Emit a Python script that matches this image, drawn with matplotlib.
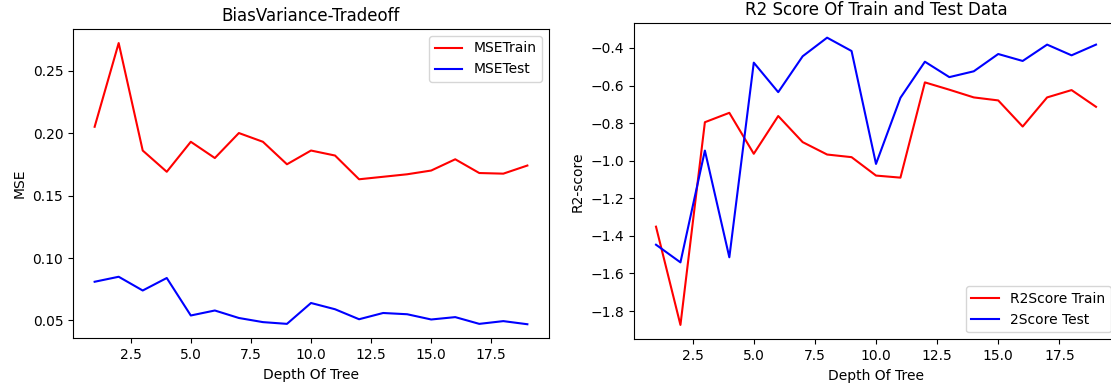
import matplotlib
matplotlib.use("Agg")
import matplotlib.pyplot as plt

# tree depths tried
depth = list(range(1, 20))

# mean squared error per depth
mse_train = [0.205, 0.272, 0.186, 0.169, 0.193, 0.180, 0.200, 0.193, 0.175, 0.186,
             0.182, 0.163, 0.165, 0.167, 0.170, 0.179, 0.168, 0.1675, 0.174]
mse_test = [0.081, 0.085, 0.074, 0.084, 0.054, 0.058, 0.052, 0.0487, 0.0473, 0.064,
            0.059, 0.051, 0.056, 0.055, 0.0508, 0.0527, 0.0473, 0.0495, 0.047]

# r2 score per depth
r2_train = [-1.351, -1.874, -0.795, -0.745, -0.963, -0.762, -0.901, -0.967, -0.981, -1.079,
            -1.090, -0.583, -0.622, -0.663, -0.679, -0.818, -0.663, -0.624, -0.713]
r2_test = [-1.447, -1.541, -0.946, -1.514, -0.478, -0.635, -0.444, -0.345, -0.416, -1.017,
           -0.665, -0.473, -0.555, -0.524, -0.432, -0.469, -0.382, -0.439, -0.382]

W, H = 1111, 387
fig = plt.figure(figsize=(W / 100, H / 100), dpi=100)

ax1 = fig.add_axes([73 / W, (H - 338.3) / H, 476 / W, 309.3 / H])
ax1.plot(depth, mse_train, color='red', label='MSETrain')
ax1.plot(depth, mse_test, color='blue', label='MSETest')
ax1.set_title('BiasVariance-Tradeoff')
ax1.set_xlabel('Depth Of Tree')
ax1.set_ylabel('MSE')
ax1.legend(loc='upper right')

ax2 = fig.add_axes([634 / W, (H - 339.3) / H, 484 / W, 316 / H])
ax2.plot(depth, r2_train, color='red', label='R2Score Train')
ax2.plot(depth, r2_test, color='blue', label='2Score Test')
ax2.set_title('R2 Score Of Train and Test Data')
ax2.set_xlabel('Depth Of Tree')
ax2.set_ylabel('R2-score')
ax2.legend(loc='lower right')

fig.savefig('out.png', dpi=100)
